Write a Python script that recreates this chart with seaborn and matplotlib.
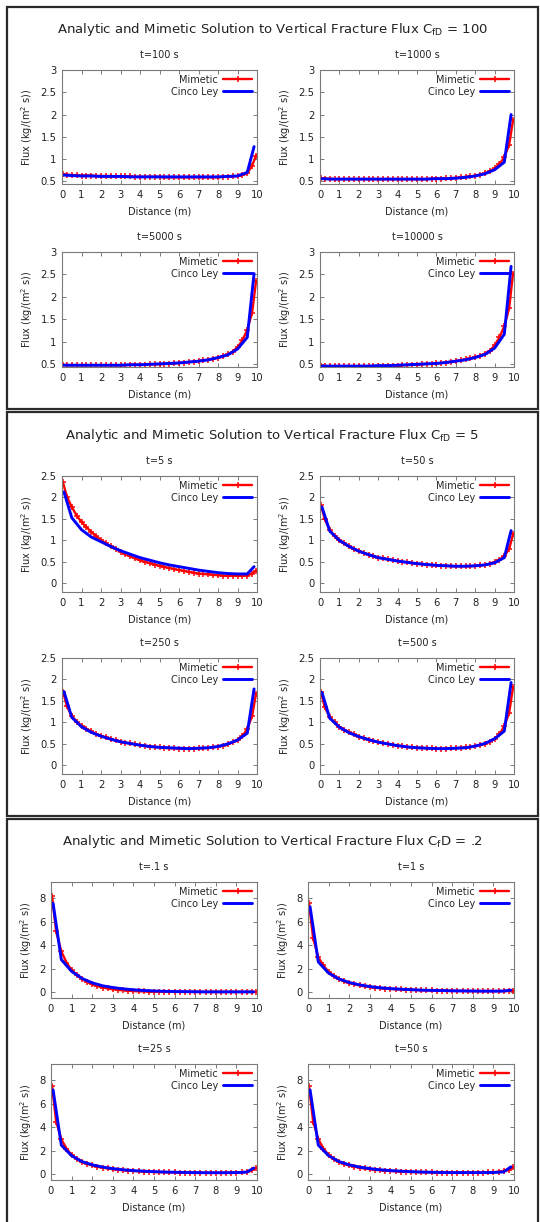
import matplotlib
matplotlib.use("Agg")
import matplotlib.pyplot as plt
from matplotlib.patches import Rectangle
from matplotlib.ticker import FuncFormatter, MultipleLocator
import seaborn as sns
import pandas as pd

# ---------------------------------------------------------------------------
# Sample positions along the fracture (m)
x_mimetic = [0.05, 0.25, 0.5, 0.75, 1.0, 1.25, 1.5, 1.75, 2.0, 2.25, 2.5, 2.75,
             3.0, 3.25, 3.5, 3.75, 4.0, 4.25, 4.5, 4.75, 5.0, 5.25, 5.5, 5.75,
             6.0, 6.25, 6.5, 6.75, 7.0, 7.25, 7.5, 7.75, 8.0, 8.25, 8.5, 8.75,
             9.0, 9.25, 9.5, 9.75, 9.95]
x_cinco = [0.1, 0.5, 1.0, 1.5, 2.0, 2.5, 3.0, 3.5, 4.0, 4.5, 5.0, 5.5, 6.0,
           6.5, 7.0, 7.5, 8.0, 8.5, 9.0, 9.5, 9.85]

# ---------------------------------------------------------------------------
# CfD = 100
mim_cfd100_t100 = [0.66, 0.65, 0.64, 0.64, 0.63, 0.63, 0.63, 0.62, 0.62, 0.62, 0.62,
                   0.61, 0.61, 0.61, 0.61, 0.60, 0.60, 0.60, 0.60, 0.60, 0.60, 0.59,
                   0.59, 0.59, 0.59, 0.59, 0.59, 0.59, 0.59, 0.59, 0.59, 0.59, 0.59,
                   0.60, 0.60, 0.61, 0.62, 0.64, 0.68, 0.85, 1.08]
cinco_cfd100_t100 = [0.64, 0.63, 0.62, 0.62, 0.61, 0.61, 0.61, 0.60, 0.60, 0.60, 0.60,
                     0.60, 0.60, 0.60, 0.60, 0.60, 0.60, 0.61, 0.62, 0.70, 1.28]

mim_cfd100_t1000 = [0.57, 0.56, 0.56, 0.55, 0.55, 0.55, 0.55, 0.55, 0.55, 0.55, 0.55,
                    0.55, 0.55, 0.55, 0.55, 0.55, 0.55, 0.55, 0.55, 0.55, 0.55, 0.55,
                    0.55, 0.56, 0.56, 0.56, 0.57, 0.57, 0.58, 0.59, 0.60, 0.61, 0.63,
                    0.65, 0.68, 0.73, 0.79, 0.88, 1.05, 1.32, 1.87]
cinco_cfd100_t1000 = [0.56, 0.55, 0.55, 0.55, 0.55, 0.55, 0.55, 0.55, 0.55, 0.55, 0.55,
                      0.55, 0.56, 0.56, 0.57, 0.59, 0.62, 0.67, 0.76, 0.93, 2.00]

mim_cfd100_t5000 = [0.49, 0.48, 0.48, 0.48, 0.48, 0.48, 0.48, 0.48, 0.48, 0.48, 0.48,
                    0.48, 0.48, 0.48, 0.49, 0.49, 0.49, 0.49, 0.50, 0.50, 0.50, 0.51,
                    0.51, 0.52, 0.53, 0.54, 0.55, 0.56, 0.57, 0.59, 0.60, 0.62, 0.65,
                    0.68, 0.72, 0.78, 0.88, 1.03, 1.27, 1.65, 2.35]
cinco_cfd100_t5000 = [0.48, 0.48, 0.48, 0.48, 0.48, 0.48, 0.48, 0.49, 0.49, 0.50, 0.51,
                      0.52, 0.53, 0.55, 0.57, 0.60, 0.65, 0.71, 0.84, 1.10, 2.52]

mim_cfd100_t10000 = [0.47, 0.46, 0.46, 0.46, 0.46, 0.46, 0.46, 0.46, 0.46, 0.46, 0.46,
                     0.46, 0.46, 0.47, 0.47, 0.47, 0.47, 0.48, 0.48, 0.49, 0.49, 0.50,
                     0.51, 0.51, 0.52, 0.53, 0.54, 0.56, 0.57, 0.59, 0.61, 0.63, 0.66,
                     0.69, 0.74, 0.80, 0.92, 1.10, 1.35, 1.75, 2.52]
cinco_cfd100_t10000 = [0.46, 0.46, 0.46, 0.46, 0.46, 0.46, 0.47, 0.47, 0.48, 0.49, 0.50,
                       0.51, 0.52, 0.54, 0.57, 0.60, 0.65, 0.72, 0.86, 1.17, 2.68]

# ---------------------------------------------------------------------------
# CfD = 5
mim_cfd5_t5 = [2.35, 2.02, 1.78, 1.58, 1.43, 1.31, 1.20, 1.10, 1.01, 0.93, 0.86,
               0.80, 0.74, 0.68, 0.63, 0.58, 0.54, 0.50, 0.47, 0.44, 0.41, 0.38,
               0.36, 0.33, 0.31, 0.29, 0.27, 0.25, 0.23, 0.22, 0.21, 0.20, 0.19,
               0.18, 0.18, 0.18, 0.18, 0.18, 0.18, 0.23, 0.30]
cinco_cfd5_t5 = [2.13, 1.53, 1.25, 1.08, 0.97, 0.86, 0.76, 0.68, 0.60, 0.54, 0.48,
                 0.43, 0.39, 0.35, 0.31, 0.28, 0.25, 0.23, 0.22, 0.22, 0.39]

mim_cfd5_t50 = [1.82, 1.49, 1.25, 1.10, 1.00, 0.93, 0.86, 0.80, 0.75, 0.71, 0.67,
                0.63, 0.60, 0.58, 0.56, 0.54, 0.52, 0.50, 0.49, 0.47, 0.46, 0.45,
                0.44, 0.43, 0.42, 0.41, 0.41, 0.40, 0.40, 0.40, 0.40, 0.40, 0.41,
                0.42, 0.43, 0.46, 0.49, 0.55, 0.64, 0.80, 1.14]
cinco_cfd5_t50 = [1.78, 1.22, 1.00, 0.86, 0.75, 0.67, 0.60, 0.56, 0.52, 0.49, 0.46,
                  0.44, 0.42, 0.41, 0.40, 0.40, 0.41, 0.43, 0.48, 0.60, 1.23]

mim_cfd5_t250 = [1.72, 1.38, 1.15, 1.02, 0.92, 0.85, 0.79, 0.73, 0.69, 0.65, 0.61,
                 0.58, 0.55, 0.53, 0.51, 0.49, 0.47, 0.46, 0.44, 0.43, 0.42, 0.41,
                 0.40, 0.40, 0.39, 0.39, 0.39, 0.39, 0.40, 0.40, 0.41, 0.42, 0.44,
                 0.46, 0.49, 0.54, 0.60, 0.68, 0.85, 1.15, 1.67]
cinco_cfd5_t250 = [1.72, 1.12, 0.90, 0.77, 0.68, 0.61, 0.55, 0.51, 0.47, 0.44, 0.42,
                   0.41, 0.40, 0.39, 0.40, 0.41, 0.44, 0.50, 0.59, 0.75, 1.78]

mim_cfd5_t500 = [1.70, 1.35, 1.13, 1.00, 0.90, 0.83, 0.77, 0.72, 0.67, 0.63, 0.60,
                 0.57, 0.54, 0.52, 0.50, 0.48, 0.46, 0.45, 0.43, 0.42, 0.41, 0.41,
                 0.40, 0.40, 0.39, 0.39, 0.39, 0.40, 0.40, 0.41, 0.42, 0.43, 0.45,
                 0.47, 0.50, 0.55, 0.62, 0.72, 0.92, 1.22, 1.82]
cinco_cfd5_t500 = [1.70, 1.10, 0.89, 0.76, 0.67, 0.60, 0.54, 0.50, 0.46, 0.43, 0.41,
                   0.40, 0.39, 0.39, 0.40, 0.41, 0.45, 0.51, 0.62, 0.80, 1.93]

# ---------------------------------------------------------------------------
# CfD = .2
mim_cfd02_t01 = [8.20, 5.20, 3.50, 2.55, 1.90, 1.50, 1.15, 0.90, 0.68, 0.55, 0.42,
                 0.34, 0.27, 0.22, 0.18, 0.15, 0.12, 0.10, 0.09, 0.08, 0.07, 0.06,
                 0.06, 0.05, 0.05, 0.05, 0.05, 0.05, 0.05, 0.05, 0.05, 0.05, 0.05,
                 0.05, 0.05, 0.05, 0.05, 0.05, 0.05, 0.05, 0.05]
cinco_cfd02_t01 = [7.60, 2.80, 1.80, 1.20, 0.82, 0.57, 0.42, 0.31, 0.23, 0.17, 0.13,
                   0.10, 0.08, 0.07, 0.06, 0.05, 0.05, 0.05, 0.05, 0.05, 0.05]

mim_cfd02_t1 = [7.60, 4.60, 3.00, 2.30, 1.75, 1.40, 1.15, 0.95, 0.80, 0.70, 0.60,
                0.52, 0.46, 0.41, 0.37, 0.33, 0.30, 0.28, 0.26, 0.24, 0.22, 0.21,
                0.19, 0.18, 0.17, 0.16, 0.15, 0.14, 0.14, 0.13, 0.13, 0.12, 0.12,
                0.12, 0.12, 0.12, 0.12, 0.12, 0.12, 0.13, 0.15]
cinco_cfd02_t1 = [7.30, 2.60, 1.65, 1.15, 0.85, 0.65, 0.50, 0.40, 0.33, 0.28, 0.24,
                  0.20, 0.18, 0.16, 0.14, 0.13, 0.12, 0.11, 0.11, 0.12, 0.20]

mim_cfd02_t25 = [7.55, 4.50, 3.00, 2.20, 1.65, 1.32, 1.07, 0.90, 0.77, 0.66, 0.58,
                 0.51, 0.45, 0.40, 0.36, 0.33, 0.30, 0.27, 0.25, 0.23, 0.21, 0.20,
                 0.19, 0.18, 0.17, 0.16, 0.15, 0.15, 0.14, 0.14, 0.14, 0.14, 0.14,
                 0.14, 0.15, 0.15, 0.16, 0.18, 0.22, 0.35, 0.55]
cinco_cfd02_t25 = [7.20, 2.50, 1.60, 1.10, 0.82, 0.63, 0.50, 0.40, 0.33, 0.28, 0.24,
                   0.21, 0.19, 0.17, 0.16, 0.15, 0.15, 0.15, 0.16, 0.20, 0.55]

mim_cfd02_t50 = [7.50, 4.50, 3.00, 2.20, 1.65, 1.32, 1.07, 0.90, 0.77, 0.66, 0.58,
                 0.51, 0.45, 0.40, 0.36, 0.33, 0.30, 0.27, 0.25, 0.23, 0.21, 0.20,
                 0.19, 0.18, 0.17, 0.16, 0.16, 0.15, 0.15, 0.15, 0.15, 0.15, 0.15,
                 0.15, 0.16, 0.17, 0.19, 0.24, 0.30, 0.38, 0.60]
cinco_cfd02_t50 = [7.20, 2.50, 1.60, 1.10, 0.82, 0.63, 0.50, 0.40, 0.33, 0.28, 0.24,
                   0.21, 0.19, 0.17, 0.16, 0.16, 0.16, 0.16, 0.17, 0.22, 0.65]

# ---------------------------------------------------------------------------
# Panel titles, subplot titles and y tick sets
panel_titles = [
    r"Analytic and Mimetic Solution to Vertical Fracture Flux C$_{\mathrm{fD}}$ = 100",
    r"Analytic and Mimetic Solution to Vertical Fracture Flux C$_{\mathrm{fD}}$ = 5",
    r"Analytic and Mimetic Solution to Vertical Fracture Flux C$_{\mathrm{f}}$D = .2",
]
subplot_titles = [
    ["t=100 s", "t=1000 s", "t=5000 s", "t=10000 s"],
    ["t=5 s", "t=50 s", "t=250 s", "t=500 s"],
    ["t=.1 s", "t=1 s", "t=25 s", "t=50 s"],
]
mimetic_series = [
    [mim_cfd100_t100, mim_cfd100_t1000, mim_cfd100_t5000, mim_cfd100_t10000],
    [mim_cfd5_t5, mim_cfd5_t50, mim_cfd5_t250, mim_cfd5_t500],
    [mim_cfd02_t01, mim_cfd02_t1, mim_cfd02_t25, mim_cfd02_t50],
]
cinco_series = [
    [cinco_cfd100_t100, cinco_cfd100_t1000, cinco_cfd100_t5000, cinco_cfd100_t10000],
    [cinco_cfd5_t5, cinco_cfd5_t50, cinco_cfd5_t250, cinco_cfd5_t500],
    [cinco_cfd02_t01, cinco_cfd02_t1, cinco_cfd02_t25, cinco_cfd02_t50],
]
y_limits = [(0.44, 3.0), (-0.2, 2.5), (-0.47, 9.4)]
y_steps = [0.5, 0.5, 2.0]

# ---------------------------------------------------------------------------
sns.set_theme(style="ticks")
plt.rcParams["font.family"] = ["DejaVu Sans"]
plt.rcParams["mathtext.fontset"] = "dejavusans"

W, H = 540, 1222
fig = plt.figure(figsize=(W / 100, H / 100), dpi=100)
fig.patch.set_facecolor("white")


def px_axes(x0, y0, x1, y1):
    return fig.add_axes([x0 / W, 1 - y1 / H, (x1 - x0) / W, (y1 - y0) / H])


# pixel boxes of the three framed panels
panel_boxes = [(7, 7, 538, 409), (7, 412, 538, 816), (7, 819, 538, 1224)]
panel_title_y = [29, 436, 842]

# axes boxes (left, top, right, bottom) in pixels, per panel
axes_boxes = [
    [(62, 70, 257, 184), (320, 70, 514, 184), (62, 252, 257, 367), (320, 252, 514, 367)],
    [(62, 476, 257, 592), (320, 476, 514, 592), (62, 658, 257, 774), (320, 658, 514, 774)],
    [(51, 882, 257, 998), (308, 882, 514, 998), (51, 1064, 257, 1180), (308, 1064, 514, 1180)],
]

fmt = FuncFormatter(lambda v, _: f"{v:g}")
spine_gray = "#7a7a7a"
text_col = "#222222"

for p in range(3):
    x0, y0, x1, y1 = panel_boxes[p]
    fig.add_artist(Rectangle((x0 / W, 1 - y1 / H), (x1 - x0) / W, (y1 - y0) / H,
                             transform=fig.transFigure, fill=False,
                             edgecolor="#2a2a2a", linewidth=1.6))
    fig.text(272.5 / W, 1 - panel_title_y[p] / H, panel_titles[p],
             ha="center", va="center", fontsize=9.5, color=text_col)

    for k in range(4):
        ax = px_axes(*axes_boxes[p][k])
        mdf = pd.DataFrame({"x": x_mimetic, "flux": mimetic_series[p][k]})
        cdf = pd.DataFrame({"x": x_cinco, "flux": cinco_series[p][k]})
        sns.lineplot(data=mdf, x="x", y="flux", ax=ax, color="#ff0000",
                     linewidth=1.7, marker="+", markersize=4, markeredgewidth=1.1,
                     markeredgecolor="#ff0000", estimator=None, label="Mimetic")
        sns.lineplot(data=cdf, x="x", y="flux", ax=ax, color="#0000ff",
                     linewidth=2.1, estimator=None, label="Cinco Ley")

        ax.set_xlim(0, 10)
        ax.set_ylim(*y_limits[p])
        ax.xaxis.set_major_locator(MultipleLocator(1))
        ax.yaxis.set_major_locator(MultipleLocator(y_steps[p]))
        ax.xaxis.set_major_formatter(fmt)
        ax.yaxis.set_major_formatter(fmt)
        ax.tick_params(direction="in", top=True, right=True, length=3, width=0.7,
                       color=spine_gray, labelsize=7.2, labelcolor=text_col, pad=4)
        for s in ax.spines.values():
            s.set_color(spine_gray)
            s.set_linewidth(0.8)
        ax.set_title(subplot_titles[p][k], fontsize=7, color=text_col, pad=9)
        ax.set_xlabel("Distance (m)", fontsize=7, color=text_col, labelpad=5)
        ax.set_ylabel(r"Flux (kg/(m$^2$ s))", fontsize=7, color=text_col, labelpad=4)
        ax.legend(loc="upper right", frameon=False, markerfirst=False, fontsize=7,
                  handlelength=3.0, handletextpad=0.5, labelspacing=0.2,
                  borderaxespad=0.3, borderpad=0.2, numpoints=1)

fig.savefig("out.png", dpi=100)
